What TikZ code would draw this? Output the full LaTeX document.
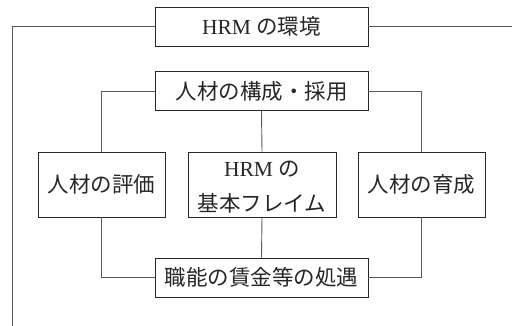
\documentclass[tikz,border=0pt]{standalone}
\usepackage{fontspec}
\setmainfont{Liberation Serif}
\newfontfamily\cjk{Noto Sans CJK JP}
\begin{document}
\begin{tikzpicture}[x=1pt,y=-1pt,
  box/.style={draw=black!85,line width=0.9pt,rectangle,inner sep=0pt,align=center,
    font=\fontsize{21.5}{35}\selectfont,text=black!85},
  wide/.style={box,minimum width=213pt,minimum height=39pt},
  mid/.style={box,minimum height=65pt},
  link/.style={draw=black!65,line width=0.9pt}]
\useasboundingbox (0,0) rectangle (512,325);
\node[wide] (env) at (261.5,26.5) {HRM {\cjk の環境}};
\node[wide] (comp) at (261.5,91) {\cjk 人材の構成・採用};
\node[mid,minimum width=127pt] (eval) at (101.5,184.5) {\cjk 人材の評価};
\node[mid,minimum width=148pt] (base) at (262,184.5) {};
\node[box,draw=none] (basetext) at ([yshift=-3pt]base.center) {HRM {\cjk の}\\{\cjk 基本フレイム}};
\node[mid,minimum width=127pt] (dev) at (421.5,184.5) {\cjk 人材の育成};
\node[wide] (pay) at (261.5,277.5) {\cjk 職能の賃金等の処遇};
\coordinate (lb) at (12,326);
\coordinate (rt) at (513,26.5);
\draw[link] (env.west) -| (lb);
\draw[link] (env.east) -- (rt);
\draw[link] (comp.west) -| (eval.north);
\draw[link] (comp.east) -| (dev.north);
\draw[link] (comp.south) -- (base.north);
\draw[link] (eval.south) |- (pay.west);
\draw[link] (dev.south) |- (pay.east);
\draw[link] (base.south) -- (pay.north);
\end{tikzpicture}
\end{document}
